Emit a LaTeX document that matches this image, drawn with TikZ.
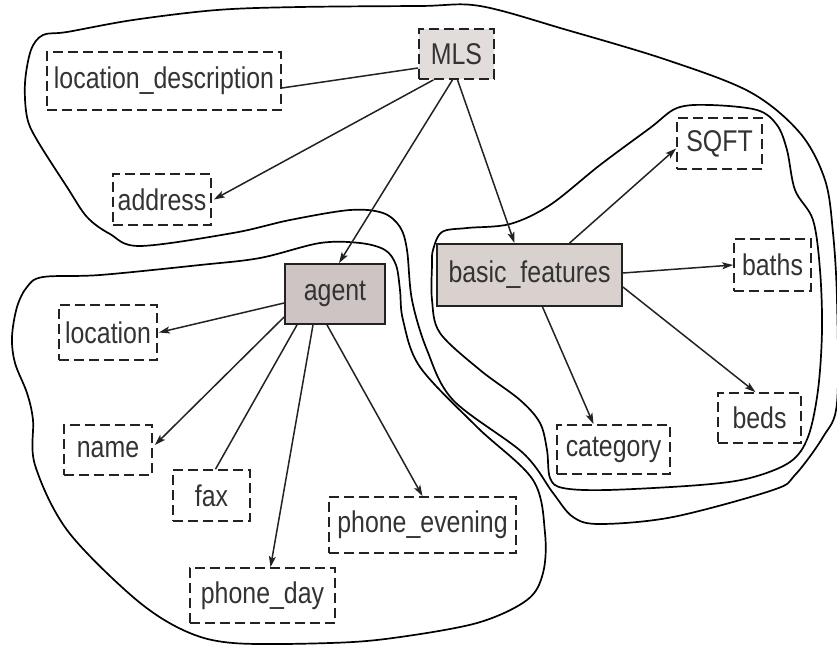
\documentclass[tikz,border=0pt]{standalone}
\usepackage{fontspec}
\setmainfont[FakeStretch=0.83]{Liberation Sans}
\usetikzlibrary{arrows.meta,calc}
\definecolor{txt}{HTML}{333333}
\definecolor{dk}{HTML}{222222}
\definecolor{mlsfill}{HTML}{E2DDDA}
\definecolor{bffill}{HTML}{D8D1CE}
\definecolor{agfill}{HTML}{CDC4C3}
\tikzset{
  attr/.style={draw=dk, dash pattern=on 10pt off 5pt, line width=1.7pt, inner sep=0pt, text=txt,
    font=\fontsize{30}{32}\selectfont},
  ent/.style={draw=dk, line width=1.8pt, inner sep=0pt, text=txt, font=\fontsize{30}{32}\selectfont},
  conn/.style={draw=dk, line width=1.5pt},
  arr/.style={conn, -{Stealth[length=11pt,width=7pt,inset=2.5pt]}},
  blobline/.style={draw=black, line width=1.7pt}
}
\begin{document}
\begin{tikzpicture}[x=1pt,y=-1pt]
\useasboundingbox (0,0) rectangle (837,645);
% blobs
\draw[blobline] plot[smooth cycle, tension=0.55] coordinates {
 (43,35) (67,32) (133,20) (217,10) (300,7) (420,6) (480,6) (567,30) (667,60) (750,92)
 (800,133) (825,180) (833,233) (837,300) (837,403) (823,437) (795,475) (773,490) (673,517)
 (600,524) (573,517) (553,493) (523,453) (453,400) (427,350) (412,300) (407,250) (400,227)
 (383,213) (350,210) (290,220) (233,233) (140,246) (110,234) (87,217) (67,187) (37,140)
 (27,117) (25,83) (31,50)};
\draw[blobline] plot[smooth cycle, tension=0.55] coordinates {
 (433,250) (442,232) (467,228) (510,224) (550,205) (600,165) (650,128) (677,108) (710,105)
 (757,110) (777,125) (787,150) (795,190) (813,220) (820,270) (822,330) (818,390) (808,437)
 (790,462) (750,478) (700,485) (607,490) (563,488) (550,478) (547,450) (540,423) (520,400)
 (480,370) (440,333) (432,300) (432,265)};
\draw[blobline] plot[smooth cycle, tension=0.55] coordinates {
 (200,265) (260,258) (320,243) (360,243) (385,250) (396,265) (400,290) (403,320) (420,367)
 (477,427) (533,480) (545,533) (543,573) (527,600) (477,623) (393,638) (330,643) (233,643)
 (183,630) (133,597) (67,530) (35,465) (33,420) (27,393) (15,363) (12,337) (17,307)
 (27,287) (43,277) (100,275)};
% nodes
\node[attr, fill=mlsfill, minimum width=75pt, minimum height=50pt] (MLS) at (456.5,54) {MLS};
\node[attr, minimum width=234pt, minimum height=58pt] (locdesc) at (164,81) {location\_description};
\node[attr, minimum width=98pt, minimum height=51pt] (address) at (162,199.5) {address};
\node[attr, minimum width=85pt, minimum height=51pt] (sqft) at (719.5,143.5) {SQFT};
\node[ent, fill=bffill, minimum width=185pt, minimum height=62pt] (basic) at (529.5,275) {basic\_features};
\node[attr, minimum width=77pt, minimum height=52pt] (baths) at (772.5,265) {baths};
\node[attr, minimum width=83pt, minimum height=50pt] (beds) at (759.5,418) {beds};
\node[attr, minimum width=113pt, minimum height=49pt] (category) at (613.5,449.5) {category};
\node[ent, fill=agfill, minimum width=100pt, minimum height=60pt] (agent) at (335,294) {agent};
\node[attr, minimum width=98pt, minimum height=55pt] (location) at (108,332.5) {location};
\node[attr, minimum width=88pt, minimum height=50pt] (name) at (108,450) {name};
\node[attr, minimum width=77pt, minimum height=51pt] (fax) at (211.5,495.5) {fax};
\node[attr, minimum width=187pt, minimum height=56pt] (pheve) at (422.5,525) {phone\_evening};
\node[attr, minimum width=145pt, minimum height=55pt] (phday) at (262.5,595.5) {phone\_day};
% connectors
\draw[conn] ([yshift=-14pt]MLS.west) -- ([yshift=-7pt]locdesc.east);
\draw[arr] ([xshift=-23pt]MLS.south) -- ([xshift=2pt]address.east);
\draw[arr] ([xshift=-4pt]MLS.south) -- ([xshift=4pt]agent.north);
\draw[arr] ([xshift=1pt]MLS.south) -- ([xshift=-15pt]basic.north);
\draw[arr] ([xshift=40pt]basic.north) -- ([yshift=-5pt]sqft.west);
\draw[arr] ([yshift=2pt]basic.east) -- (baths.west);
\draw[arr] ([yshift=-12pt]basic.east) -- ([xshift=-4pt]beds.north);
\draw[arr] ([xshift=13pt]basic.south) -- ([xshift=-20pt]category.north);
\draw[arr] ([yshift=-9pt]agent.west) -- ([xshift=1pt]location.east);
\draw[arr] ([yshift=-23pt]agent.west) -- ([yshift=5pt,xshift=2pt]name.east);
\draw[conn] ([xshift=-38pt]agent.south) -- ([xshift=4pt]fax.north);
\draw[arr] ([xshift=-22pt]agent.south) -- ([xshift=8pt]phday.north);
\draw[arr] ([xshift=-8pt]agent.south) -- (pheve.north);
\end{tikzpicture}
\end{document}
